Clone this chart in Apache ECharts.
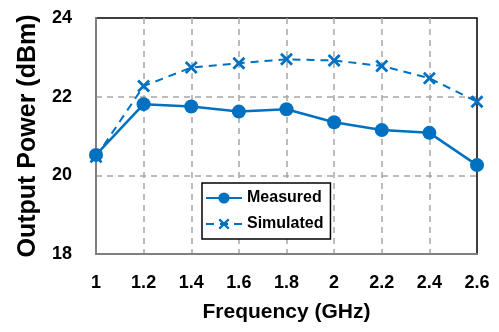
<!DOCTYPE html>
<html>
<head>
<meta charset="utf-8">
<title>Output Power vs Frequency</title>
<script src="https://cdn.jsdelivr.net/npm/echarts@6/dist/echarts.min.js"></script>
<style>
    html, body { margin: 0; padding: 0; background: #fff; }
    #container { width: 499px; height: 332px; }
</style>
</head>
<body>
<div id="container"></div>
<script>
// frequency points (GHz)
var freq = [1, 1.2, 1.4, 1.6, 1.8, 2, 2.2, 2.4, 2.6];
// output power (dBm)
var measured = [20.52, 21.81, 21.75, 21.62, 21.68, 21.35, 21.15, 21.08, 20.26];
var simulated = [20.47, 22.27, 22.74, 22.85, 22.95, 22.92, 22.78, 22.47, 21.87];
var seriesNames = ['Measured', 'Simulated'];

function pairs(xs, ys) {
    var out = [];
    for (var i = 0; i < xs.length; i++) {
        out.push([xs[i], ys[i]]);
    }
    return out;
}

var blue = '#0070C0';
var font = 'Arial, "Liberation Sans", sans-serif';
// thick "x" marker
var crossPath = 'path://M0,1.5L1.5,0L5,3.5L8.5,0L10,1.5L6.5,5L10,8.5L8.5,10L5,6.5L1.5,10L0,8.5L3.5,5Z';

var myChart = echarts.init(document.getElementById('container'));
var option = {
    animation: false,
    textStyle: { fontFamily: font },
    grid: {
        left: 96,
        right: 22,
        top: 18,
        bottom: 78,
        show: true,
        borderColor: '#000',
        borderWidth: 1.5
    },
    legend: {
        orient: 'vertical',
        left: 202,
        top: 183,
        padding: [7, 7, 7, 3],
        itemWidth: 36,
        itemHeight: 14,
        itemGap: 10,
        borderColor: '#000',
        borderWidth: 1.5,
        backgroundColor: '#fff',
        textStyle: { fontSize: 16, fontWeight: 'bold', color: '#000', fontFamily: font },
        data: seriesNames
    },
    xAxis: {
        type: 'value',
        min: 1,
        max: 2.6,
        interval: 0.2,
        name: 'Frequency (GHz)',
        nameLocation: 'middle',
        nameGap: 48,
        nameTextStyle: { fontSize: 21, fontWeight: 'bold', color: '#000', fontFamily: font },
        axisLine: { lineStyle: { color: '#7f7f7f', width: 2 } },
        axisTick: { show: false },
        axisLabel: {
            fontSize: 18, fontWeight: 'bold', color: '#000', margin: 20,
            formatter: function (v) { return String(Math.round(v * 10) / 10); }
        },
        splitLine: {
            show: true,
            showMinLine: false,
            showMaxLine: false,
            lineStyle: { color: '#a6a6a6', width: 1.5, type: [6, 5] }
        }
    },
    yAxis: {
        type: 'value',
        min: 18,
        max: 24,
        interval: 2,
        name: 'Output Power (dBm)',
        nameLocation: 'middle',
        nameGap: 55,
        nameTextStyle: { fontSize: 25, fontWeight: 'bold', color: '#000', fontFamily: font },
        axisLine: { show: true, lineStyle: { color: '#7f7f7f', width: 2 } },
        axisTick: { show: false },
        axisLabel: { fontSize: 18, fontWeight: 'bold', color: '#000', margin: 24 },
        splitLine: {
            show: true,
            showMinLine: false,
            showMaxLine: false,
            lineStyle: { color: '#a6a6a6', width: 1.5, type: [6, 5] }
        }
    },
    series: [
        {
            name: seriesNames[0],
            type: 'line',
            data: pairs(freq, measured),
            symbol: 'circle',
            symbolSize: 14,
            clip: false,
            z: 3,
            lineStyle: { color: blue, width: 2.5 },
            itemStyle: { color: blue }
        },
        {
            name: seriesNames[1],
            type: 'line',
            data: pairs(freq, simulated),
            symbol: crossPath,
            symbolSize: 13,
            clip: false,
            z: 4,
            lineStyle: { color: blue, width: 2, type: [8, 6] },
            itemStyle: { color: blue }
        }
    ]
};
myChart.setOption(option);
</script>
</body>
</html>
